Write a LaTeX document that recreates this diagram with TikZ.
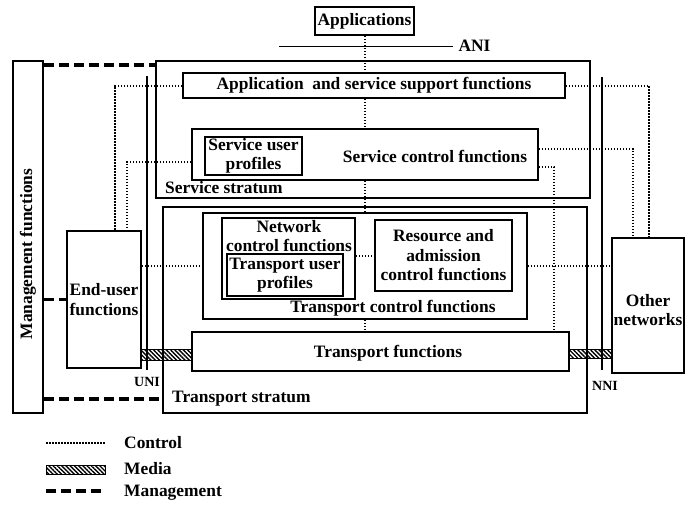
\documentclass[tikz,border=0pt]{standalone}
\usepackage{fontspec}
\setmainfont{Liberation Serif}
\usetikzlibrary{patterns.meta}

\begin{document}
\begin{tikzpicture}[x=1pt,y=-1pt,
    box/.style={draw,line width=1.6pt,fill=white,inner sep=0pt,align=center,font=\fontsize{17.4}{19.5}\selectfont\bfseries},
    lab/.style={inner sep=0pt,align=center,font=\fontsize{17.4}{19.5}\selectfont\bfseries},
    small/.style={inner sep=0pt,font=\fontsize{14}{16}\selectfont\bfseries},
    ctrl/.style={line width=2pt,dash pattern=on 1.5pt off 1.5pt},
    mgmt/.style={line width=3.5pt,dash pattern=on 10pt off 5pt},
    media/.style={draw,line width=1pt,pattern={Lines[angle=-45,distance=3pt,line width=1.4pt]}}]
    \useasboundingbox (0,0) rectangle (694,506);

    % Applications and ANI
    \node[box,minimum width=99,minimum height=28] (apps) at (364.5,21) {Applications};
    \coordinate (aniL) at (279,46);
    \coordinate (aniR) at (453,46);
    \draw[line width=1pt] (aniL) -- (aniR) node[lab,anchor=west,xshift=5pt] (ani) {ANI};

    % Strata
    \node[box,fill=none,minimum width=434,minimum height=137] (ss) at (373,129.5) {};
    \node[lab,anchor=west] (sslab) at (165,188) {Service stratum};
    \node[box,fill=none,minimum width=424,minimum height=206] (ts) at (375,310) {};
    \node[lab,anchor=west] (tslab) at (172,399) {Transport stratum};

    % Service stratum functions
    \node[box,minimum width=382,minimum height=25] (asf) at (374,85.5) {Application\enspace and service support functions};
    \node[box,minimum width=346,minimum height=51] (scf) at (365,154.5) {};
    \node[lab] (scflab) at (435,156) {Service control functions};
    \node[box,minimum width=97,minimum height=38] (sup) at (253.5,156) {Service user\\profiles};

    % Transport stratum functions
    \node[box,minimum width=324,minimum height=106] (tcf) at (365,266) {};
    \node[lab] (tcflab) at (393,308) {Transport control functions};
    \node[box,minimum width=133,minimum height=81] (ncf) at (288.5,258.5) {};
    \node[lab] (ncflab) at (289,236) {Network\\control functions};
    \node[box,minimum width=116,minimum height=42] (tup) at (285,275) {Transport user\\profiles};
    \node[box,minimum width=137,minimum height=71] (rac) at (443.5,255.5) {Resource and\\admission\\control functions};
    \node[box,minimum width=377,minimum height=39] (tf) at (380.5,351.5) {};
    \node[lab] (tflab) at (388,353) {Transport functions};

    % End-user, management, other networks
    \node[box,minimum width=74,minimum height=137] (eu) at (104,299.5) {End-user\\functions};
    \node[box,minimum width=30,minimum height=352] (mf) at (28,237) {};
    \node[lab,rotate=90] (mflab) at (28,254) {Management functions};
    \node[box,minimum width=72,minimum height=135] (on) at (648,305.5) {};
    \node[lab] (onlab) at (648,310) {Other\\networks};

    % UNI and NNI
    \coordinate (uniT) at (147,76);
    \coordinate (uniB) at (147,370);
    \draw[line width=1.4pt] (uniT) -- (uniB) node[small,anchor=north,yshift=-7pt] (uni) {UNI};
    \coordinate (nniT) at (602,77);
    \coordinate (nniB) at (602,370);
    \draw[line width=1.4pt] (nniT) -- (nniB) node[small,anchor=north,yshift=-11pt,xshift=3pt] (nni) {NNI};

    % Control
    \draw[ctrl] (apps.south) -- (apps.south |- asf.north);
    \draw[ctrl] (asf.south -| scf.north) -- (scf.north);
    \draw[ctrl] (scf.south) -- (tcf.north);
    \draw[ctrl] (tcf.south) -- (tcf.south |- tf.north);
    \draw[ctrl] (asf.west) -| ([xshift=11pt]eu.north);
    \draw[ctrl] ([yshift=-7.5pt]scf.west) -| ([xshift=23pt]eu.north);
    \coordinate (euc) at ([yshift=33.5pt]eu.east);
    \draw[ctrl] (euc) -- (euc -| tcf.west);
    \draw[ctrl] (rac.west -| ncf.east) -- (rac.west);
    \draw[ctrl] (tcf.east) -- (tcf.east -| on.west);
    \draw[ctrl] (asf.east) -| ([xshift=1pt]on.north);
    \draw[ctrl] ([yshift=5.5pt]scf.east) -| ([xshift=-15pt]on.north);
    \draw[ctrl] ([yshift=-12.5pt]scf.east) -| ([xshift=173.5pt]tf.north);

    % Management
    \coordinate (mg1) at ([yshift=-5pt]mf.north east);
    \draw[mgmt] (mg1) -- (mg1 -| ss.west);
    \draw[mgmt] (eu.west -| mf.east) -- (eu.west);
    \draw[mgmt] (tslab.west -| mf.east) -- (tslab.west -| ts.west);

    % Media
    \coordinate (m1) at (eu.east |- tf.west);
    \draw[media] ([yshift=2.5pt]m1) rectangle ([yshift=-8.5pt]tf.west);
    \coordinate (m2) at (tf.east -| on.west);
    \draw[media] ([yshift=2.5pt]tf.east) rectangle ([yshift=-7pt]m2);

    % Legend
    \draw[ctrl,line width=1.3pt] (46,443) -- (105,443);
    \node[lab,anchor=west] (lctrl) at (124,443) {Control};
    \draw[media] (46,465) rectangle (105,474);
    \node[lab,anchor=west] (lmedia) at (124,469) {Media};
    \draw[mgmt] (46,491) -- (105,491);
    \node[lab,anchor=west] (lmgmt) at (124,493) {Management};
\end{tikzpicture}
\end{document}
